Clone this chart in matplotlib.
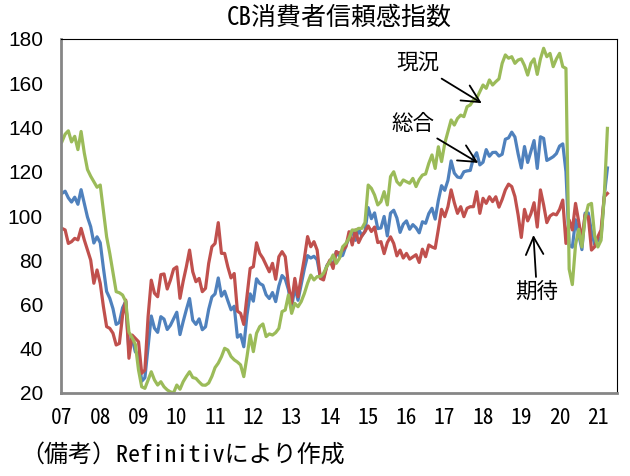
import numpy as np
import matplotlib
matplotlib.use('Agg')
import matplotlib.pyplot as plt

plt.rcParams['font.family'] = ['Noto Sans CJK JP', 'DejaVu Sans']
mono = ['Noto Sans Mono CJK JP', 'Noto Sans CJK JP', 'DejaVu Sans']

# monthly, Jan 2007 - Apr 2021
total = [
    110.2, 111.2, 108.2, 106.3, 108.5, 105.3, 111.9, 105.6, 99.5, 95.2, 87.8, 90.6,
    87.9, 76.4, 65.9, 62.8, 58.1, 51.0, 51.9, 58.5, 61.4, 38.8, 44.7, 38.6,
    37.4, 25.3, 26.9, 40.8, 54.8, 49.3, 47.4, 54.5, 53.4, 48.7, 50.6, 53.6,
    56.5, 46.4, 52.3, 57.7, 62.7, 52.9, 51.0, 53.5, 48.6, 49.9, 57.8, 63.4,
    64.8, 72.0, 63.8, 66.0, 61.7, 57.6, 59.2, 45.2, 46.4, 40.9, 55.2, 64.8,
    61.5, 71.6, 69.5, 68.7, 64.4, 62.7, 65.4, 61.3, 68.4, 73.1, 71.5, 66.7,
    58.4, 68.0, 61.9, 69.0, 76.2, 82.1, 81.0, 81.8, 80.2, 72.4, 72.0, 77.5,
    79.4, 78.3, 83.9, 81.7, 82.2, 86.4, 90.3, 93.4, 89.0, 94.1, 91.0, 93.1,
    103.8, 98.8, 101.4, 94.3, 94.6, 99.8, 91.0, 101.3, 102.6, 99.1, 92.6, 96.3,
    97.8, 94.0, 96.1, 94.7, 92.4, 97.4, 96.7, 101.1, 103.5, 98.6, 107.1, 113.7,
    111.6, 116.1, 124.9, 119.4, 117.6, 117.3, 120.0, 120.4, 120.6, 126.2, 128.6, 123.1,
    124.3, 130.0, 127.0, 128.7, 128.8, 127.1, 127.9, 134.7, 135.3, 137.9, 135.7, 128.1,
    121.7, 131.4, 124.2, 129.2, 134.1, 121.5, 135.8, 135.1, 125.1, 125.9, 126.8, 128.2,
    131.6, 132.6, 120.0, 86.9, 85.9, 98.3, 91.7, 84.8, 101.3, 101.4, 92.9, 87.1,
    88.9, 90.4, 109.0, 121.7,
]

present = [
    133.6, 137.0, 138.5, 133.5, 136.0, 130.0, 138.2, 128.5, 121.0, 118.0, 115.5, 113.0,
    114.0, 102.5, 90.6, 83.0, 74.5, 65.8, 65.3, 64.3, 61.3, 47.5, 45.0, 42.0,
    30.4, 22.8, 22.1, 25.9, 29.6, 25.9, 23.6, 25.1, 22.8, 21.4, 20.5, 20.1,
    23.6, 21.7, 25.1, 27.5, 29.6, 27.0, 26.6, 25.0, 23.6, 23.5, 24.5, 27.5,
    31.5, 33.5, 36.4, 40.2, 39.4, 36.5, 35.0, 34.0, 32.7, 27.4, 36.4, 46.2,
    38.7, 47.0, 50.0, 51.2, 45.5, 46.7, 46.2, 47.3, 49.2, 56.8, 57.5, 64.3,
    56.0, 60.5, 59.0, 61.3, 65.0, 69.6, 73.3, 71.1, 72.6, 72.6, 74.1, 77.1,
    79.4, 82.4, 78.6, 80.9, 86.1, 87.6, 90.0, 93.7, 93.5, 94.4, 94.4, 97.0,
    114.0, 112.5, 109.5, 105.0, 106.5, 111.0, 105.0, 117.8, 120.0, 115.5, 114.0, 116.3,
    115.5, 114.8, 117.0, 113.3, 116.5, 118.5, 119.0, 123.8, 127.6, 121.5, 131.3, 124.6,
    132.8, 138.1, 143.4, 141.1, 144.1, 145.6, 144.9, 149.4, 150.2, 152.4, 153.2, 156.2,
    159.2, 157.7, 161.5, 159.2, 160.7, 162.0, 169.0, 172.8, 171.3, 172.0, 169.0, 170.5,
    171.0, 168.0, 163.7, 169.0, 171.0, 164.0, 171.0, 175.8, 172.0, 173.5, 167.5, 171.0,
    173.5, 167.5, 166.7, 76.0, 69.0, 87.0, 94.0, 86.0, 99.0, 105.0, 105.7, 91.0,
    86.0, 89.0, 108.7, 139.6,
]

expect = [
    94.4, 93.7, 87.6, 88.4, 89.9, 89.2, 94.4, 89.2, 84.6, 80.1, 69.6, 75.6,
    69.6, 59.0, 50.0, 49.2, 47.0, 41.7, 42.4, 55.0, 62.0, 35.7, 46.2, 44.7,
    43.2, 28.9, 30.4, 54.5, 71.0, 65.1, 63.5, 73.5, 73.8, 67.0, 71.0, 76.0,
    77.0, 62.8, 70.5, 77.1, 84.6, 74.8, 70.3, 71.8, 65.8, 67.3, 78.6, 86.1,
    87.6, 97.0, 83.1, 83.1, 77.0, 72.0, 74.0, 57.0, 56.0, 51.0, 63.5, 76.3,
    77.1, 87.9, 83.1, 80.9, 77.8, 74.8, 78.6, 71.4, 81.6, 83.9, 81.6, 68.8,
    60.5, 71.8, 63.5, 72.6, 80.9, 90.7, 86.1, 88.4, 84.6, 71.8, 71.1, 77.1,
    80.1, 76.3, 83.9, 83.1, 84.6, 86.1, 92.9, 86.9, 93.7, 88.0, 91.0, 93.0,
    95.5, 93.0, 95.0, 88.0, 88.4, 83.0, 88.0, 90.6, 87.6, 82.0, 84.6, 81.0,
    83.1, 80.5, 81.5, 82.5, 79.0, 85.0, 81.6, 86.9, 86.0, 85.4, 94.0, 103.0,
    99.7, 104.2, 111.8, 106.0, 101.2, 104.2, 99.7, 103.5, 104.2, 104.2, 111.0, 101.2,
    108.0, 105.7, 108.7, 106.5, 108.7, 104.0, 107.5, 111.8, 114.4, 113.3, 108.8, 100.5,
    90.3, 103.0, 97.8, 101.0, 106.0, 95.0, 111.8, 105.0, 97.0, 100.0, 101.0, 100.5,
    103.0, 107.2, 87.6, 98.2, 93.7, 105.7, 97.4, 89.2, 100.5, 99.7, 84.6, 86.1,
    90.6, 93.7, 108.7, 110.2,
]

year_labels = ['07', '08', '09', '10', '11', '12', '13', '14',
               '15', '16', '17', '18', '19', '20', '21']

months = np.arange(len(total))

fig = plt.figure(figsize=(6.3, 4.76), dpi=100)
ax = fig.add_axes([61/630, 83/476, 556/630, 354/476])

ax.plot(months, total, color='#4F81BD', lw=2.3)
ax.plot(months, expect, color='#C0504D', lw=2.3)
ax.plot(months, present, color='#9BBB59', lw=2.3)

ax.set_xlim(-0.3, 174)
ax.set_ylim(20, 180)
ax.set_yticks(range(20, 181, 20))
ax.set_xticks(np.arange(0, 12 * len(year_labels), 12))
ax.set_xticklabels(year_labels)
ax.tick_params(length=0)
ax.tick_params(axis='y', labelsize=15, pad=13)
ax.tick_params(axis='x', labelsize=15.5, pad=10)
for lab in ax.get_yticklabels():
    lab.set_fontfamily('Liberation Sans')
for lab in ax.get_xticklabels():
    lab.set_fontfamily(mono)

for s in ['left', 'bottom']:
    ax.spines[s].set_color('#868686')
    ax.spines[s].set_linewidth(2)
for s in ['top', 'right']:
    ax.spines[s].set_color('black')
    ax.spines[s].set_linewidth(0.8)

arrow = dict(arrowstyle='->,head_length=0.7,head_width=0.35', lw=1.3,
             color='black', shrinkA=1, shrinkB=0, mutation_scale=18)
ax.annotate('現況', xy=(131.6, 151), xytext=(0.642, 0.929),
            textcoords='axes fraction', ha='center', va='center',
            fontsize=15.5, family=mono, arrowprops=arrow)
ax.annotate('総合', xy=(130.5, 124), xytext=(0.633, 0.760),
            textcoords='axes fraction', ha='center', va='center',
            fontsize=15.5, family=mono, arrowprops=arrow)
ax.annotate('期待', xy=(147.8, 91.4), xytext=(0.856, 0.285),
            textcoords='axes fraction', ha='center', va='center',
            fontsize=15.5, family=mono, arrowprops=arrow)

fig.text(339/630, 1 - 18/476, 'CB消費者信頼感指数', fontsize=18,
         family=mono, ha='center', va='center')
fig.text(20/630, 1 - 455/476, '（備考）Refinitivにより作成', fontsize=17.3,
         family=mono, ha='left', va='center')

fig.savefig('out.png', dpi=100)
